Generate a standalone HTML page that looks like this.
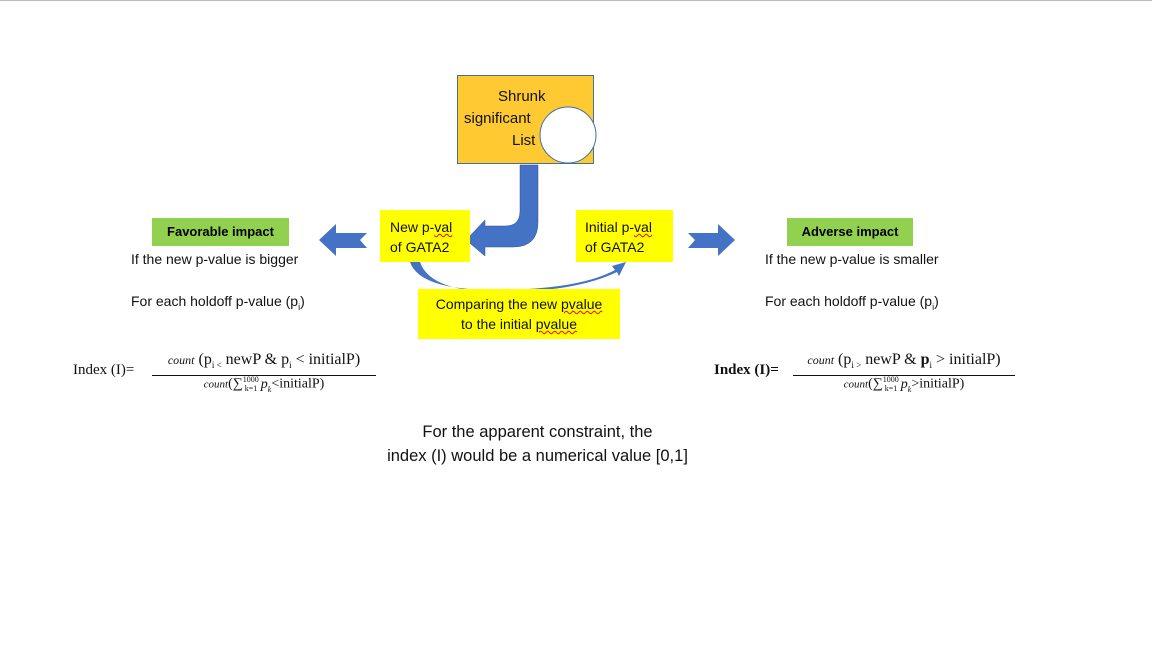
<!DOCTYPE html>
<html><head><meta charset="utf-8"><style>
body{margin:0;width:1152px;height:648px;background:#fff;position:relative;overflow:hidden;font-family:"Liberation Sans",Calibri,sans-serif;}
.a{position:absolute;}
.y{background:#ffff00;color:#111;font-size:14px;line-height:20px;}
.g{background:#92d050;font-weight:bold;font-size:13px;text-align:center;line-height:28px;}
.t{font-size:14px;color:#111;white-space:nowrap;}
.f{font-family:"Liberation Serif",serif;font-size:14px;color:#111;white-space:nowrap;}
.u{text-decoration:underline wavy red;text-decoration-thickness:1px;}
.s{position:absolute;font-size:15px;color:#111;white-space:nowrap;}
</style></head><body>
<div class="a" style="left:0;top:0;width:1152px;height:1px;background:#bbb"></div>
<div class="a" style="left:457px;top:75px;width:137px;height:89px;background:#ffc931;border:1px solid #41719c;box-sizing:border-box;"></div>
<div class="s" style="left:498px;top:88px;">Shrunk</div>
<div class="s" style="left:464px;top:110px;">significant</div>
<div class="s" style="left:512px;top:132px;">List</div>
<svg class="a" style="left:0;top:0" width="1152" height="648">
<circle cx="568" cy="135" r="28" fill="#fff" stroke="#41719c" stroke-width="1"/>
<path d="M520,165 L538,165 L538,222 Q538,247 513,247 L485,247 L485,256 L466,240 L485,220 L485,226 L505,226 Q520,226 520,211 Z" fill="#4472c4" stroke="#2f5597" stroke-width="0.5"/>
<path d="M319,240 L336,224 L336,233 L367,233 L360,240 L367,248 L336,248 L336,256 Z" fill="#4472c4"/>
<path d="M735,240 L718,224 L718,233 L688,233 L695,240 L688,248 L718,248 L718,256 Z" fill="#4472c4"/>
<path d="M410,262 Q420,291 500,290 Q580,289 615,270 L612,266 L626,262 L619,276 L617,272 Q575,292 500,292 Q430,292 420,262 Z" fill="#4472c4"/>
</svg>
<div class="a y" style="left:380px;top:210px;width:90px;height:52px;padding:7px 0 0 10px;box-sizing:border-box;">New p-<span class="u">val</span><br>of GATA2</div>
<div class="a y" style="left:576px;top:210px;width:97px;height:52px;padding:7px 0 0 9px;box-sizing:border-box;">Initial p-<span class="u">val</span><br>of GATA2</div>
<div class="a y" style="left:418px;top:289px;width:202px;height:50px;text-align:center;padding-top:5px;box-sizing:border-box;">Comparing the new <span class="u">pvalue</span><br>to the initial <span class="u">pvalue</span></div>
<div class="a g" style="left:152px;top:218px;width:137px;height:28px;">Favorable impact</div>
<div class="a g" style="left:787px;top:218px;width:126px;height:28px;">Adverse impact</div>
<div class="a t" style="left:131px;top:251px;">If the new p-value is bigger</div>
<div class="a t" style="left:131px;top:293px;">For each holdoff p-value (p<sub style="font-size:9px">i</sub>)</div>
<div class="a t" style="left:765px;top:251px;">If the new p-value is smaller</div>
<div class="a t" style="left:765px;top:293px;">For each holdoff p-value (p<sub style="font-size:9px">i</sub>)</div>
<div class="a f" style="left:73px;top:362px;font-size:15px;">Index (I)=</div>
<div class="a f" style="left:152px;top:350px;width:224px;text-align:center;border-bottom:1px solid #111;line-height:20px;font-size:16px;"><i style="font-size:12px">count</i> (p<sub style="font-size:9px">i &lt;</sub> newP &amp; p<sub style="font-size:9px">i</sub> &lt; initialP)</div>
<div class="a f" style="left:152px;top:372px;width:224px;text-align:center;font-size:14px;line-height:16px;"><i style="font-size:11px">count</i>(∑<sup style="font-size:8px">1000</sup><sub style="font-size:8px;margin-left:-14px">k=1</sub> <i>p<sub style="font-size:8px">k</sub></i>&lt;initialP)</div>
<div class="a f" style="left:714px;top:362px;font-weight:bold;font-size:15px;">Index (I)=</div>
<div class="a f" style="left:793px;top:350px;width:222px;text-align:center;border-bottom:1px solid #111;line-height:20px;font-size:16px;"><i style="font-size:12px">count</i> (p<sub style="font-size:9px">i &gt;</sub> newP &amp; <b>p</b><sub style="font-size:9px">i</sub> &gt; initialP)</div>
<div class="a f" style="left:793px;top:372px;width:222px;text-align:center;font-size:14px;line-height:16px;"><i style="font-size:11px">count</i>(∑<sup style="font-size:8px">1000</sup><sub style="font-size:8px;margin-left:-14px">k=1</sub> <i>p<sub style="font-size:8px">k</sub></i>&gt;initialP)</div>
<div class="a" style="left:320px;top:420px;width:435px;text-align:center;font-size:16.5px;line-height:24px;color:#111;">For the apparent constraint, the<br>index (I) would be a numerical value [0,1]</div>
</body></html>
